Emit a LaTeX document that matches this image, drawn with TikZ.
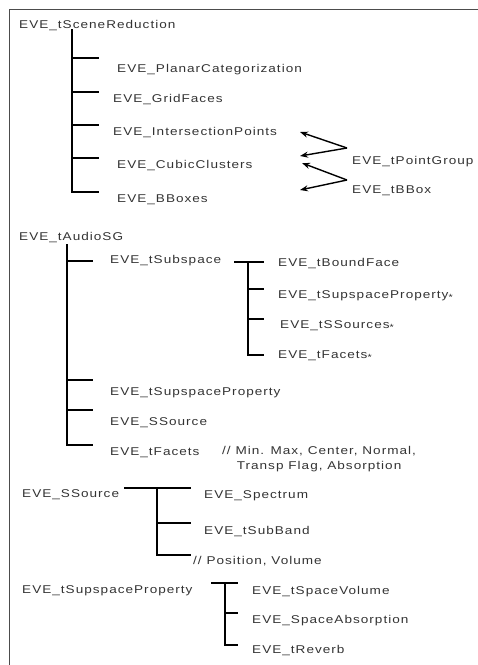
\documentclass[tikz,border=0pt]{standalone}
\usepackage{fontspec}
\setmainfont{Liberation Sans}[FakeStretch=1.2,LetterSpace=9]
\usetikzlibrary{arrows.meta}
\newcommand{\smallstar}{{\fontsize{9}{9}\selectfont\raisebox{-1.6pt}{*}}}
\begin{document}
\begin{tikzpicture}[x=1pt,y=-1pt,
  lbl/.style={anchor=west,inner sep=0pt,text=black!80,font=\fontsize{11.3}{13}\selectfont},
  tree/.style={line width=1.6pt,line cap=rect},
  frame/.style={line width=0.8pt,black!70},
  ref/.style={line width=1.4pt,-{Stealth[length=8pt,width=6pt]}}]
\useasboundingbox (0,0) rectangle (478,665);
% frame
\coordinate (f0) at (9,9);
\coordinate (f1) at (478,9);
\coordinate (f2) at (9,665);
\draw[frame] (f1) -- (f0) -- (f2);

% ---------- Tree 1 ----------
\node[lbl] (sr) at (19,26) {EVE\_tSceneReduction};
\coordinate (t1top) at (72,30);
\node[lbl] (pc) at (117,70) {EVE\_PlanarCategorization};
\node[lbl] (gf) at (113,100) {EVE\_GridFaces};
\node[lbl] (ip) at (113,133) {EVE\_IntersectionPoints};
\node[lbl] (cc) at (117,166) {EVE\_CubicClusters};
\node[lbl] (bb) at (117,200) {EVE\_BBoxes};
\coordinate (b1) at (98,58);
\coordinate (b2) at (98,92);
\coordinate (b3) at (98,125);
\coordinate (b4) at (98,158);
\coordinate (b5) at (98,192);
\draw[tree] (t1top) |- (b5);
\foreach \b in {b1,b2,b3,b4}{\draw[tree] (t1top |- \b) -- (\b);}

\node[lbl] (pg) at (352,162) {EVE\_tPointGroup};
\node[lbl] (bx) at (352,191) {EVE\_tBBox};
\coordinate (v1) at (347,148);
\coordinate (v2) at (347,180);
\coordinate (p1) at (300,132);
\coordinate (p2) at (300,156);
\coordinate (p3) at (302,163);
\coordinate (p4) at (300,190);
\draw[ref] (v1) -- (p1);
\draw[ref] (v1) -- (p2);
\draw[ref] (v2) -- (p3);
\draw[ref] (v2) -- (p4);

% ---------- Tree 2 ----------
\node[lbl] (asg) at (19,238) {EVE\_tAudioSG};
\coordinate (t2top) at (67,245);
\node[lbl] (ss) at (110,261) {EVE\_tSubspace};
\node[lbl] (sp) at (110,393) {EVE\_tSupspaceProperty};
\node[lbl] (so) at (110,423) {EVE\_SSource};
\node[lbl] (fa) at (110,453) {EVE\_tFacets};
\node[lbl,align=center,anchor=north west] (fac) at (222,446) {// Min. Max, Center, Normal,\\[2pt]Transp Flag, Absorption};
\coordinate (c1) at (92,261);
\coordinate (c2) at (92,380);
\coordinate (c3) at (92,410);
\coordinate (c4) at (92,445);
\draw[tree] (t2top) |- (c4);
\foreach \b in {c1,c2,c3}{\draw[tree] (t2top |- \b) -- (\b);}

% subtree of tSubspace
\coordinate (s0) at (235,262);
\coordinate (s1) at (263,262);
\coordinate (st) at (248,262);
\coordinate (s2) at (263,289);
\coordinate (s3) at (263,319);
\coordinate (s4) at (263,355);
\node[lbl] (bf) at (278,264) {EVE\_tBoundFace};
\node[lbl] (sp2) at (278,296) {EVE\_tSupspaceProperty\smallstar};
\node[lbl] (sss) at (280,326) {EVE\_tSSources\smallstar};
\node[lbl] (fa2) at (278,356) {EVE\_tFacets\smallstar};
\draw[tree] (s0) -- (s1);
\draw[tree] (st) |- (s4);
\foreach \b in {s2,s3}{\draw[tree] (st |- \b) -- (\b);}

% ---------- Tree 3 ----------
\node[lbl] (src) at (22,495) {EVE\_SSource};
\coordinate (u0) at (125,488);
\coordinate (u1) at (190,488);
\coordinate (ut) at (157,488);
\coordinate (u2) at (190,523);
\coordinate (u3) at (190,555);
\node[lbl] (spc) at (204,496) {EVE\_Spectrum};
\node[lbl] (sb) at (204,532) {EVE\_tSubBand};
\node[lbl] (pv) at (193,561) {// Position, Volume};
\draw[tree] (u0) -- (u1);
\draw[tree] (ut) |- (u3);
\draw[tree] (ut |- u2) -- (u2);

% ---------- Tree 4 ----------
\node[lbl] (ssp) at (22,591) {EVE\_tSupspaceProperty};
\coordinate (w0) at (212,583);
\coordinate (w1) at (237,583);
\coordinate (wt) at (225,583);
\coordinate (w2) at (237,613);
\coordinate (w3) at (237,645);
\node[lbl] (sv) at (252,592) {EVE\_tSpaceVolume};
\node[lbl] (sa) at (252,621) {EVE\_SpaceAbsorption};
\node[lbl] (rv) at (252,651) {EVE\_tReverb};
\draw[tree] (w0) -- (w1);
\draw[tree] (wt) |- (w3);
\draw[tree] (wt |- w2) -- (w2);
\end{tikzpicture}
\end{document}
